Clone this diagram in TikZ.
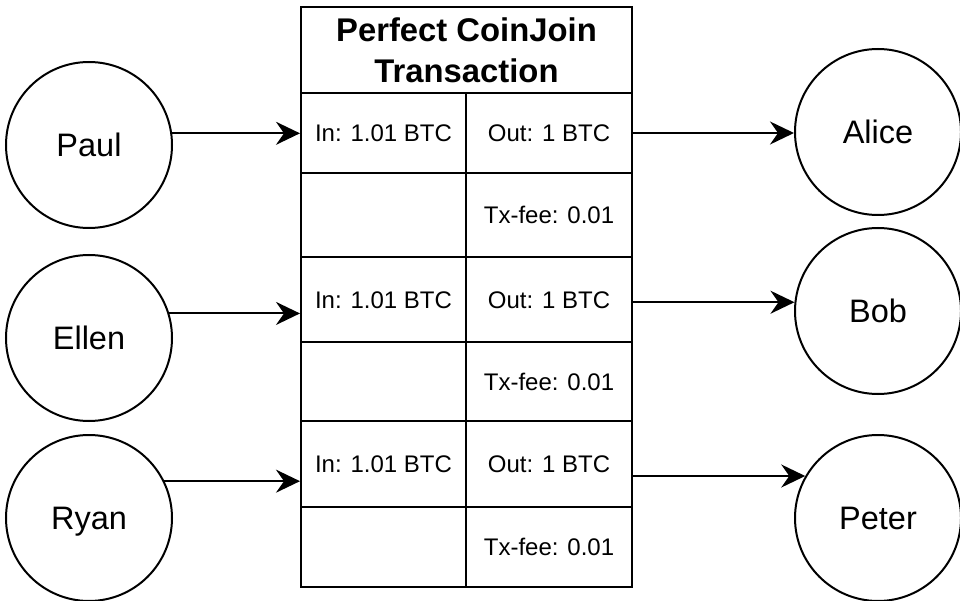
\documentclass[tikz,border=0pt]{standalone}
\usepackage{fontspec}
\setmainfont{Liberation Sans}
\usetikzlibrary{arrows.meta}

\tikzset{
  person/.style={draw, circle, line width=2pt, minimum size=166pt, inner sep=0pt,
    font=\fontsize{32.5}{36}\selectfont, text height=23.3pt, text depth=0pt},
  cell/.style={draw, rectangle, line width=2pt, inner sep=0pt,
    font=\fontsize{24}{28}\selectfont, text height=17.2pt, text depth=0pt},
  incell/.style={cell, minimum width=165pt},
  outcell/.style={cell, minimum width=166pt},
  header/.style={draw, rectangle, line width=2pt, inner sep=0pt, align=center,
    minimum width=331pt, minimum height=86pt,
    font=\fontsize{32.8}{41}\selectfont\bfseries},
  flow/.style={line width=2pt, -{Stealth[length=24pt,width=23pt,inset=8pt]}}
}

\begin{document}
\begin{tikzpicture}[x=1pt,y=-1pt]
\useasboundingbox (0,0) rectangle (960,601);

% participants
\node[person] (paul)  at (89,145) {Paul};
\node[person] (ellen) at (89,338) {Ellen};
\node[person] (ryan)  at (89,518) {Ryan};
\node[person] (alice) at (878,132) {Alice};
\node[person] (bob)   at (878,311) {Bob};
\node[person] (peter) at (878,518) {Peter};

% transaction table
\node[header] (title) at (466.5,50.5) {Perfect CoinJoin\\Transaction};

\node[incell,  minimum height=80pt] (in1)  at (383.5,133) {In: 1.01 BTC};
\node[outcell, minimum height=80pt] (out1) at (549,133)   {Out: 1 BTC};
\node[incell,  minimum height=84pt] (e1)   at (383.5,215) {};
\node[outcell, minimum height=84pt] (fee1) at (549,215)   {Tx-fee: 0.01};

\node[incell,  minimum height=85pt] (in2)  at (383.5,299.5) {In: 1.01 BTC};
\node[outcell, minimum height=85pt] (out2) at (549,299.5)   {Out: 1 BTC};
\node[incell,  minimum height=79pt] (e2)   at (383.5,381.5) {};
\node[outcell, minimum height=79pt] (fee2) at (549,381.5)   {Tx-fee: 0.01};

\node[incell,  minimum height=86pt] (in3)  at (383.5,464) {In: 1.01 BTC};
\node[outcell, minimum height=86pt] (out3) at (549,464)   {Out: 1 BTC};
\node[incell,  minimum height=80pt] (e3)   at (383.5,547) {};
\node[outcell, minimum height=80pt] (fee3) at (549,547)   {Tx-fee: 0.01};

% inputs into the transaction
\draw[flow] (paul.8)   -- (paul.8 -| in1.west);
\draw[flow] (ellen.17) -- (ellen.17 -| in2.west);
\draw[flow] (ryan.26)  -- (ryan.26 -| in3.west);

% outputs to the receivers
\draw[flow] (out1.east) -- (out1.east -| alice.west);
\draw[flow] (bob.174 -| out2.east) -- (bob.174);
\draw[flow] (peter.150 -| out3.east) -- (peter.150);
\end{tikzpicture}
\end{document}
